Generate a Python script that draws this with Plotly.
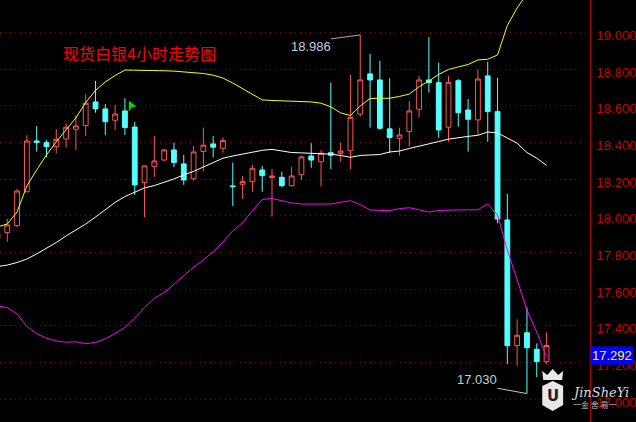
"""现货白银 4 小时 K 线 + 布林带，黑底行情软件风格。"""

import plotly.graph_objects as go

# K 线（开、高、低、收），左起第一根只露出一半
OPEN = [17.877, 17.908, 17.946, 18.131, 18.408, 18.399, 18.377, 18.419, 18.472, 18.492,
        18.621, 18.583, 18.521, 18.572, 18.484, 18.181, 18.268, 18.304, 18.359, 18.283,
        18.202, 18.351, 18.392, 18.368, 18.163, 18.172, 18.186, 18.250, 18.208, 18.210,
        18.164, 18.224, 18.326, 18.295, 18.344, 18.341, 18.355, 18.555, 18.774, 18.741,
        18.474, 18.423, 18.459, 18.581, 18.741, 18.726, 18.483, 18.737, 18.577, 18.523,
        18.763, 18.568, 17.977, 17.292, 17.362, 17.272, 17.204]
HIGH = [17.910, 17.982, 18.145, 18.439, 18.490, 18.413, 18.472, 18.505, 18.548, 18.664,
        18.735, 18.610, 18.604, 18.641, 18.512, 18.273, 18.435, 18.364, 18.399, 18.332,
        18.381, 18.481, 18.435, 18.428, 18.290, 18.217, 18.277, 18.272, 18.255, 18.241,
        18.268, 18.328, 18.396, 18.359, 18.726, 18.399, 18.768, 18.986, 18.883, 18.845,
        18.750, 18.481, 18.626, 18.763, 18.975, 18.835, 18.763, 18.746, 18.637, 18.799,
        18.841, 18.753, 18.119, 17.435, 17.501, 17.304, 17.364]
LOW = [17.870, 17.859, 17.937, 18.128, 18.350, 18.319, 18.341, 18.372, 18.359, 18.435,
       18.562, 18.441, 18.468, 18.441, 18.113, 17.992, 18.213, 18.299, 18.265, 18.168,
       18.191, 18.241, 18.319, 18.344, 18.053, 18.092, 18.131, 18.131, 17.995, 18.155,
       18.160, 18.195, 18.262, 18.159, 18.255, 18.295, 18.255, 18.541, 18.481, 18.468,
       18.341, 18.328, 18.377, 18.535, 18.672, 18.426, 18.404, 18.486, 18.350, 18.441,
       18.404, 17.959, 17.190, 17.182, 17.030, 17.119, 17.190]
CLOSE = [17.904, 17.950, 18.135, 18.408, 18.399, 18.377, 18.417, 18.483, 18.490, 18.614,
         18.583, 18.513, 18.555, 18.481, 18.168, 18.272, 18.299, 18.359, 18.290, 18.195,
         18.348, 18.385, 18.374, 18.410, 18.159, 18.186, 18.259, 18.219, 18.217, 18.164,
         18.217, 18.321, 18.304, 18.341, 18.330, 18.353, 18.537, 18.741, 18.741, 18.477,
         18.426, 18.441, 18.572, 18.741, 18.726, 18.468, 18.728, 18.562, 18.526, 18.746,
         18.568, 17.982, 17.291, 17.348, 17.280, 17.204, 17.292]

# 布林带：上轨 / 中轨 / 下轨
BB_UP = [17.939, 17.955, 18.021, 18.163, 18.250, 18.332, 18.404, 18.468, 18.534, 18.618,
         18.684, 18.730, 18.765, 18.795, 18.795, 18.794, 18.792, 18.791, 18.789, 18.786,
         18.782, 18.776, 18.767, 18.751, 18.724, 18.694, 18.666, 18.632, 18.629, 18.627,
         18.626, 18.626, 18.621, 18.614, 18.594, 18.561, 18.547, 18.599, 18.640, 18.641,
         18.641, 18.651, 18.664, 18.704, 18.735, 18.771, 18.798, 18.812, 18.825, 18.850,
         18.854, 18.877, 19.038, 19.134, 19.210, 19.270, 19.325]
BB_MID = [17.723, 17.731, 17.745, 17.764, 17.792, 17.822, 17.854, 17.890, 17.922, 17.955,
          17.993, 18.034, 18.073, 18.105, 18.130, 18.152, 18.165, 18.181, 18.201, 18.223,
          18.242, 18.266, 18.292, 18.314, 18.326, 18.337, 18.348, 18.357, 18.362, 18.353,
          18.345, 18.343, 18.341, 18.340, 18.336, 18.329, 18.319, 18.329, 18.332, 18.334,
          18.348, 18.353, 18.367, 18.381, 18.393, 18.405, 18.418, 18.427, 18.433, 18.439,
          18.457, 18.452, 18.423, 18.396, 18.345, 18.314, 18.275]
BB_LOW = [17.508, 17.499, 17.464, 17.396, 17.357, 17.332, 17.318, 17.310, 17.313, 17.302,
          17.309, 17.329, 17.358, 17.391, 17.442, 17.499, 17.550, 17.581, 17.627, 17.675,
          17.719, 17.759, 17.804, 17.857, 17.917, 17.963, 18.026, 18.089, 18.094, 18.082,
          18.070, 18.064, 18.064, 18.064, 18.064, 18.074, 18.082, 18.061, 18.032, 18.029,
          18.028, 18.039, 18.044, 18.033, 18.020, 18.029, 18.032, 18.032, 18.032, 18.033,
          18.064, 18.004, 17.813, 17.644, 17.486, 17.366, 17.230]

TITLE = "现货白银4小时走势图"
LAST_PRICE = 17.292

BG = "#000000"
UP = "#ff5454"
DOWN = "#54ffff"
GRID = "#9a0000"
AXIS_TXT = "#c80000"
FONT = "Liberation Sans, Arial, sans-serif"
PW, PH = 593, 422   # 绘图区像素尺寸，用于把水印位置换算成 paper 坐标

x = list(range(len(OPEN)))

fig = go.Figure()
fig.add_trace(go.Candlestick(
    x=x, open=OPEN, high=HIGH, low=LOW, close=CLOSE,
    increasing=dict(line=dict(color=UP, width=1), fillcolor=BG),
    decreasing=dict(line=dict(color=DOWN, width=1), fillcolor=DOWN),
    whiskerwidth=0, hoverinfo="skip", showlegend=False,
))
for ys, col in ((BB_UP, "#ffff00"), (BB_MID, "#ffffff"), (BB_LOW, "#ff00ff")):
    fig.add_trace(go.Scatter(x=x, y=ys, mode="lines", line=dict(color=col, width=1),
                             hoverinfo="skip", showlegend=False))

# 最高 / 最低价标注：从三根之前引一条细线到极值
i_hi = HIGH.index(max(HIGH))
i_lo = LOW.index(min(LOW))
fig.add_trace(go.Scatter(x=[i_hi - 3, i_hi], y=[HIGH[i_hi] - 0.021, HIGH[i_hi]], mode="lines",
                         line=dict(color="#a8a8a8", width=1), hoverinfo="skip", showlegend=False))
fig.add_trace(go.Scatter(x=[i_lo - 3, i_lo], y=[LOW[i_lo] + 0.029, LOW[i_lo]], mode="lines",
                         line=dict(color="#c8c8c8", width=1), hoverinfo="skip", showlegend=False))
fig.add_annotation(x=i_hi - 3, y=HIGH[i_hi] - 0.021, text=f"{HIGH[i_hi]:.3f}", showarrow=False,
                   xanchor="right", yanchor="middle", yshift=-8, xshift=2,
                   font=dict(family=FONT, size=13, color="#c4cedb"))
fig.add_annotation(x=i_lo - 3, y=LOW[i_lo] + 0.029, text=f"{LOW[i_lo]:.3f}", showarrow=False,
                   xanchor="right", yanchor="middle", yshift=9, xshift=1,
                   font=dict(family=FONT, size=13, color="#c4cedb"))

# 标题
fig.add_annotation(xref="paper", yref="paper", x=61 / PW, y=1 - 53 / PH, text=TITLE,
                   showarrow=False, xanchor="left", yanchor="middle",
                   font=dict(family="Noto Sans CJK SC", size=16, color="#ff0000"))

# 右侧最新价
fig.add_annotation(xref="paper", x=1, y=LAST_PRICE, text=f"{LAST_PRICE:.3f}", showarrow=False,
                   xanchor="left", yanchor="top", bgcolor="#0000ff", borderpad=1,
                   font=dict(family=FONT, size=13, color="#ffff00"))

# 绿色光标
fig.add_shape(type="path", path="M 13.45,18.623 L 14.06,18.597 L 13.6,18.592 L 13.45,18.573 Z",
              fillcolor="#00e000", line=dict(color="#00e000", width=1))


def px(xp, yp):
    return f"{xp / PW},{1 - yp / PH}"


# 水印 logo：皇冠 + 六边形盾牌 + 文字
fig.add_shape(type="path", xref="paper", yref="paper",
              path=(f"M {px(546, 380)} L {px(545, 371)} L {px(550, 375)} L {px(555.5, 369)} "
                    f"L {px(561, 375)} L {px(566, 371)} L {px(565, 380)} Z"),
              fillcolor="#e8e8e8", line=dict(width=0))
fig.add_shape(type="path", xref="paper", yref="paper",
              path=(f"M {px(545, 386)} L {px(555.5, 381)} L {px(566, 386)} "
                    f"L {px(566, 405)} L {px(555.5, 411)} L {px(545, 405)} Z"),
              fillcolor="#e8e8e8", line=dict(width=0))
fig.add_annotation(xref="paper", yref="paper", x=555.5 / PW, y=1 - 396 / PH, text="<b>U</b>",
                   showarrow=False, xanchor="center", yanchor="middle",
                   font=dict(family="DejaVu Sans", size=15, color="#202020"))
fig.add_annotation(xref="paper", yref="paper", x=572 / PW, y=1 - 392 / PH, text="<i>JinSheYi</i>",
                   showarrow=False, xanchor="left", yanchor="middle",
                   font=dict(family="DejaVu Serif", size=13, color="#dcdcdc"))
fig.add_annotation(xref="paper", yref="paper", x=574 / PW, y=1 - 404 / PH, text="一金 舍 易一",
                   showarrow=False, xanchor="left", yanchor="middle",
                   font=dict(family="Noto Sans CJK SC", size=8, color="#bdbdbd"))

fig.update_layout(
    width=636, height=422,
    margin=dict(l=0, r=43, t=0, b=0),
    paper_bgcolor=BG, plot_bgcolor=BG,
    showlegend=False, dragmode=False,
)
fig.update_xaxes(visible=False, range=[0.259, 60.43], rangeslider=dict(visible=False))
fig.update_yaxes(
    side="right", range=[16.875, 19.177], tick0=17, dtick=0.2, tickformat=".3f",
    showgrid=True, gridcolor=GRID, griddash="1px,4px", gridwidth=1, zeroline=False,
    showline=True, linecolor="#b00000", linewidth=1, ticks="",
    ticklabelstandoff=3, ticklabelshift=3,
    tickfont=dict(family=FONT, size=13, color=AXIS_TXT),
)

# 页面默认 8px 边距会把图挤偏，去掉
fig.write_html("out.html", config={"displayModeBar": False},
               post_script="document.body.style.margin='0';")
